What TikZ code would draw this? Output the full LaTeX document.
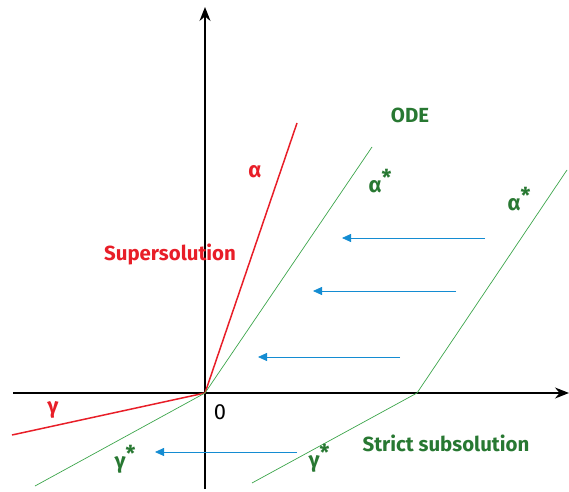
\documentclass[tikz,border=0pt]{standalone}
\usepackage{fontspec}
\setmainfont{Fira Sans}
\usepackage{tikz}
\usetikzlibrary{arrows.meta}
\definecolor{solred}{RGB}{232,30,40}
\definecolor{odegreen}{RGB}{40,120,50}
\definecolor{linegreen}{RGB}{60,165,75}
\definecolor{flowblue}{RGB}{20,140,210}
\newcommand{\starred}[1]{#1\raisebox{0.6ex}{*}}

\begin{document}
\begin{tikzpicture}[x=1bp, y=-1bp, font=\bfseries\fontsize{20.5}{24}\selectfont,
    axis/.style={line width=1.3pt, -{Stealth[length=14bp, width=11bp]}},
    redline/.style={solred, line width=1.5pt},
    greenline/.style={linegreen, line width=0.7pt},
    flow/.style={flowblue, line width=0.8pt, -{Triangle[length=9bp, width=8bp]}},
    redlabel/.style={solred},
    greenlabel/.style={odegreen},
    greek/.style={font=\bfseries\fontsize{22}{24}\selectfont}]
        \useasboundingbox (0,0) rectangle (569,492);
        % Axes
        \coordinate (O) at (205,393);
        \coordinate (xL) at (13,393);
        \coordinate (xR) at (569,393);
        \coordinate (yB) at (205,489);
        \coordinate (yT) at (205,7);
        \draw[axis] (xL) -- (xR);
        \draw[axis] (yB) -- (yT);
        \node[font=\fontsize{22}{24}\selectfont] (zero) at (220,412) {0};
        % Supersolution
        \coordinate (alphaEnd) at (297,123);
        \coordinate (gammaEnd) at (12,435);
        \draw[redline] (O) -- (alphaEnd);
        \draw[redline] (O) -- (gammaEnd);
        \node[redlabel, greek] (alpha) at (255,172) {α};
        \node[redlabel, greek] (gamma) at (53,410) {γ};
        \node[redlabel] (super) at (170,254) {Supersolution};
        % ODE through the origin
        \coordinate (odeTop) at (372,147);
        \coordinate (odeBot) at (35,486);
        \draw[greenline] (odeBot) -- (O) -- (odeTop);
        \node[greenlabel] (ode) at (410,115) {ODE};
        \node[greenlabel, greek] (astarA) at (380,181) {\starred{α}};
        \node[greenlabel, greek] (gstarA) at (125,459) {\starred{γ}};
        % Strict subsolution
        \coordinate (S) at (417,393);
        \coordinate (subTop) at (567,170);
        \coordinate (subBot) at (252,483);
        \draw[greenline] (subBot) -- (S) -- (subTop);
        \node[greenlabel, greek] (astarB) at (519,199) {\starred{α}};
        \node[greenlabel, greek] (gstarB) at (319,458) {\starred{γ}};
        \node[greenlabel] (sub) at (446,443) {Strict subsolution};
        % Flow arrows
        \foreach \xa/\xb/\yy in {485/342/238, 456/313/291, 400/258/357, 297/155/452}{
          \coordinate (fa) at (\xa,\yy);
          \coordinate (fb) at (\xb,\yy);
          \draw[flow] (fa) -- (fb);
        }
      \end{tikzpicture}
\end{document}
